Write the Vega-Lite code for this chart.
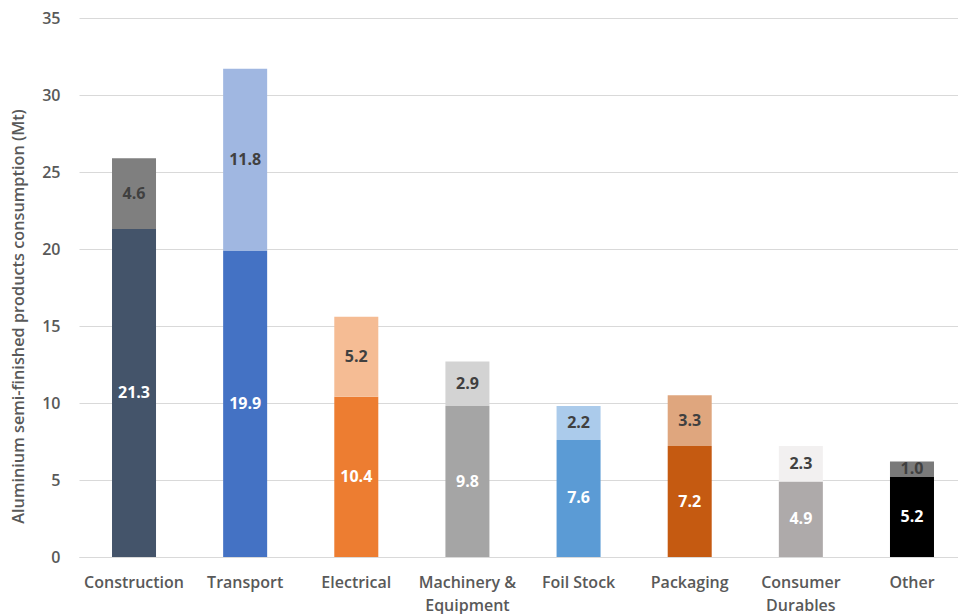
{
  "$schema": "https://vega.github.io/schema/vega-lite/v6.json",
  "width": 888,
  "height": 539,
  "autosize": "none",
  "padding": {"left": 79, "top": 18, "right": 0, "bottom": 57},
  "background": "white",
  "config": {
    "view": {"stroke": null},
    "font": "Open Sans"
  },
  "data": {
    "values": [
      {"category": "Construction", "part": "lower", "series": "Construction lower", "value": 21.3},
      {"category": "Construction", "part": "upper", "series": "Construction upper", "value": 4.6},
      {"category": "Transport", "part": "lower", "series": "Transport lower", "value": 19.9},
      {"category": "Transport", "part": "upper", "series": "Transport upper", "value": 11.8},
      {"category": "Electrical", "part": "lower", "series": "Electrical lower", "value": 10.4},
      {"category": "Electrical", "part": "upper", "series": "Electrical upper", "value": 5.2},
      {"category": "Machinery & Equipment", "part": "lower", "series": "Machinery lower", "value": 9.8},
      {"category": "Machinery & Equipment", "part": "upper", "series": "Machinery upper", "value": 2.9},
      {"category": "Foil Stock", "part": "lower", "series": "Foil lower", "value": 7.6},
      {"category": "Foil Stock", "part": "upper", "series": "Foil upper", "value": 2.2},
      {"category": "Packaging", "part": "lower", "series": "Packaging lower", "value": 7.2},
      {"category": "Packaging", "part": "upper", "series": "Packaging upper", "value": 3.3},
      {"category": "Consumer Durables", "part": "lower", "series": "Consumer lower", "value": 4.9},
      {"category": "Consumer Durables", "part": "upper", "series": "Consumer upper", "value": 2.3},
      {"category": "Other", "part": "lower", "series": "Other lower", "value": 5.2},
      {"category": "Other", "part": "upper", "series": "Other upper", "value": 1.0}
    ]
  },
  "transform": [
    {"stack": "value", "groupby": ["category"], "sort": [{"field": "part", "order": "ascending"}], "as": ["v0", "v1"]},
    {"calculate": "(datum.v0 + datum.v1) / 2", "as": "mid"}
  ],
  "encoding": {
    "x": {
      "field": "category",
      "type": "nominal",
      "sort": ["Construction", "Transport", "Electrical", "Machinery & Equipment", "Foil Stock", "Packaging", "Consumer Durables", "Other"],
      "scale": {"paddingInner": 0.604, "paddingOuter": 0.297},
      "axis": {
        "title": null,
        "labelAngle": 0,
        "labelFont": "Open Sans",
        "labelFontSize": 16,
        "labelFontWeight": 600,
        "labelColor": "#595959",
        "labelPadding": 17,
        "labelLineHeight": 23,
        "ticks": false,
        "domainColor": "#D9D9D9",
        "domainWidth": 1,
        "labelExpr": "datum.label == 'Machinery & Equipment' ? ['Machinery &', 'Equipment'] : datum.label == 'Consumer Durables' ? ['Consumer', 'Durables'] : datum.label"
      }
    }
  },
  "layer": [
    {
      "mark": {"type": "bar"},
      "encoding": {
        "y": {
          "field": "v0",
          "type": "quantitative",
          "scale": {"domain": [0, 35]},
          "axis": {
            "title": "Aluminium semi-finished products consumption (Mt)",
            "values": [0, 5, 10, 15, 20, 25, 30, 35],
            "grid": true,
            "gridColor": "#D9D9D9",
            "domain": false,
            "ticks": false,
            "labelFont": "Open Sans",
            "labelFontSize": 16,
            "labelFontWeight": 600,
            "labelColor": "#595959",
            "labelPadding": 19,
            "titleFont": "Open Sans",
            "titleFontSize": 16.3,
            "titleFontWeight": 600,
            "titleColor": "#595959",
            "titlePadding": 15,
            "titleY": 298
          }
        },
        "y2": {"field": "v1"},
        "color": {
          "field": "series",
          "type": "nominal",
          "legend": null,
          "scale": {
            "domain": ["Construction lower", "Construction upper", "Transport lower", "Transport upper", "Electrical lower", "Electrical upper", "Machinery lower", "Machinery upper", "Foil lower", "Foil upper", "Packaging lower", "Packaging upper", "Consumer lower", "Consumer upper", "Other lower", "Other upper"],
            "range": ["#44546A", "#7F7F7F", "#4472C4", "#A0B7E1", "#ED7D31", "#F5BC94", "#A5A5A5", "#D3D3D3", "#5B9BD5", "#ABCBEB", "#C55A11", "#DFA67E", "#AEAAAA", "#F2F0F0", "#000000", "#7A7A7A"]
          }
        }
      }
    },
    {
      "mark": {"type": "text", "font": "Open Sans", "fontSize": 16, "fontWeight": "bold", "baseline": "middle", "align": "center"},
      "encoding": {
        "y": {"field": "mid", "type": "quantitative"},
        "text": {"field": "value", "type": "quantitative", "format": ".1f"},
        "color": {
          "condition": {"test": "datum.part === 'lower'", "value": "#FFFFFF"},
          "value": "#404040"
        }
      }
    }
  ]
}
